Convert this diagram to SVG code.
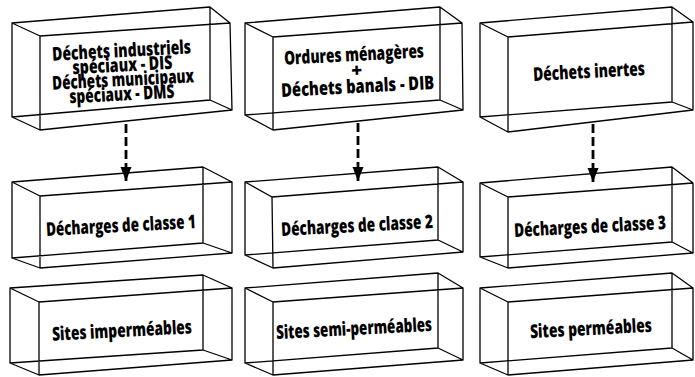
<svg xmlns="http://www.w3.org/2000/svg" width="695" height="377" viewBox="0 0 695 377">
  <style>
    .edge { fill: none; stroke: #000; stroke-width: 1.3; stroke-linejoin: round; }
    .lbl { font-family: "Open Sans", "DejaVu Sans", sans-serif; font-weight: 800; font-size: 19px; fill: #000; text-anchor: middle; }
    .flow { fill: none; stroke: #000; stroke-width: 2.8; stroke-dasharray: 9 4; }
  </style>
  <defs>
    <marker id="head" markerUnits="userSpaceOnUse" markerWidth="15" markerHeight="12" refX="14" refY="6" orient="auto" viewBox="0 0 15 12">
      <path d="M0,0.5 L14,6 L0,11.5 Z" fill="#000"/>
    </marker>
  </defs>
  <rect width="695" height="377" fill="#fff"/>

  <!-- row 1: waste categories -->
  <g id="dis-dms">
    <path class="edge" d="M12,23 L210,7 L210,100 L12,117 Z M40,36 L230,23 L232,110 L40,130 Z M12,23 L40,36 M210,7 L230,23 M210,100 L232,110 M12,117 L40,130"/>
    <g transform="rotate(-3 123 78)">
      <text class="lbl" x="123" y="57" textLength="139" lengthAdjust="spacingAndGlyphs">Déchets industriels</text>
      <text class="lbl" x="123" y="71.5" textLength="100" lengthAdjust="spacingAndGlyphs">spéciaux - DIS</text>
      <text class="lbl" x="123" y="86" textLength="142" lengthAdjust="spacingAndGlyphs">Déchets municipaux</text>
      <text class="lbl" x="121" y="100.5" textLength="105" lengthAdjust="spacingAndGlyphs">spéciaux - DMS</text>
    </g>
  </g>
  <g id="om-dib">
    <path class="edge" d="M245,23 L440,7 L440,100 L245,115 Z M273,37 L462,23 L463,110 L273,130 Z M245,23 L273,37 M440,7 L462,23 M440,100 L463,110 M245,115 L273,130"/>
    <g transform="rotate(-3 356 74)">
      <text class="lbl" x="355" y="61" textLength="140" lengthAdjust="spacingAndGlyphs">Ordures ménagères</text>
      <text class="lbl" x="357" y="77">+</text>
      <text class="lbl" x="357" y="93" textLength="153" lengthAdjust="spacingAndGlyphs">Déchets banals - DIB</text>
    </g>
  </g>
  <g id="inertes">
    <path class="edge" d="M480,23 L672,7 L672,102 L480,117 Z M508,37 L693,22 L693,110 L508,132 Z M480,23 L508,37 M672,7 L693,22 M672,102 L693,110 M480,117 L508,132"/>
    <text class="lbl" x="589" y="78" textLength="112" lengthAdjust="spacingAndGlyphs" transform="rotate(-3 589 72)">Déchets inertes</text>
  </g>

  <!-- row 2: landfill classes -->
  <g id="classe1">
    <path class="edge" d="M12,182 L203,167 L203,243 L12,258 Z M40,196 L232,182 L232,253 L40,268 Z M12,182 L40,196 M203,167 L232,182 M203,243 L232,253 M12,258 L40,268"/>
    <text class="lbl" x="121" y="232" textLength="150" lengthAdjust="spacingAndGlyphs" transform="rotate(-3 121 226)">Décharges de classe 1</text>
  </g>
  <g id="classe2">
    <path class="edge" d="M245,182 L438,167 L438,240 L245,255 Z M272,197 L463,182 L463,252 L273,268 Z M245,182 L272,197 M438,167 L463,182 M438,240 L463,252 M245,255 L273,268"/>
    <text class="lbl" x="357" y="232" textLength="152" lengthAdjust="spacingAndGlyphs" transform="rotate(-3 357 226)">Décharges de classe 2</text>
  </g>
  <g id="classe3">
    <path class="edge" d="M480,183 L672,167 L672,242 L480,257 Z M508,197 L693,183 L693,253 L508,268 Z M480,183 L508,197 M672,167 L693,183 M672,242 L693,253 M480,257 L508,268"/>
    <text class="lbl" x="590" y="233" textLength="152" lengthAdjust="spacingAndGlyphs" transform="rotate(-3 590 227)">Décharges de classe 3</text>
  </g>

  <!-- row 3: site permeability -->
  <g id="impermeables">
    <path class="edge" d="M10,288 L203,275 L203,350 L10,363 Z M39,302 L232,288 L232,360 L39,375 Z M10,288 L39,302 M203,275 L232,288 M203,350 L232,360 M10,363 L39,375"/>
    <text class="lbl" x="122" y="337" textLength="140" lengthAdjust="spacingAndGlyphs" transform="rotate(-3 122 331)">Sites imperméables</text>
  </g>
  <g id="semi-permeables">
    <path class="edge" d="M245,288 L438,273 L438,348 L245,363 Z M273,302 L463,288 L463,360 L273,375 Z M245,288 L273,302 M438,273 L463,288 M438,348 L463,360 M245,363 L273,375"/>
    <text class="lbl" x="354" y="335" textLength="156" lengthAdjust="spacingAndGlyphs" transform="rotate(-3 354 329)">Sites semi-perméables</text>
  </g>
  <g id="permeables">
    <path class="edge" d="M480,288 L672,273 L672,348 L480,363 Z M508,302 L693,288 L693,360 L508,375 Z M480,288 L508,302 M672,273 L693,288 M672,348 L693,360 M480,363 L508,375"/>
    <text class="lbl" x="591" y="335" textLength="122" lengthAdjust="spacingAndGlyphs" transform="rotate(-3 591 329)">Sites perméables</text>
  </g>

  <!-- dashed flows from waste type to landfill class -->
  <g id="connectors">
    <line class="flow" x1="126" y1="124" x2="126" y2="181" marker-end="url(#head)"/>
    <line class="flow" x1="358" y1="123" x2="358" y2="181" marker-end="url(#head)"/>
    <line class="flow" x1="593" y1="124" x2="593" y2="182" marker-end="url(#head)"/>
  </g>
</svg>
